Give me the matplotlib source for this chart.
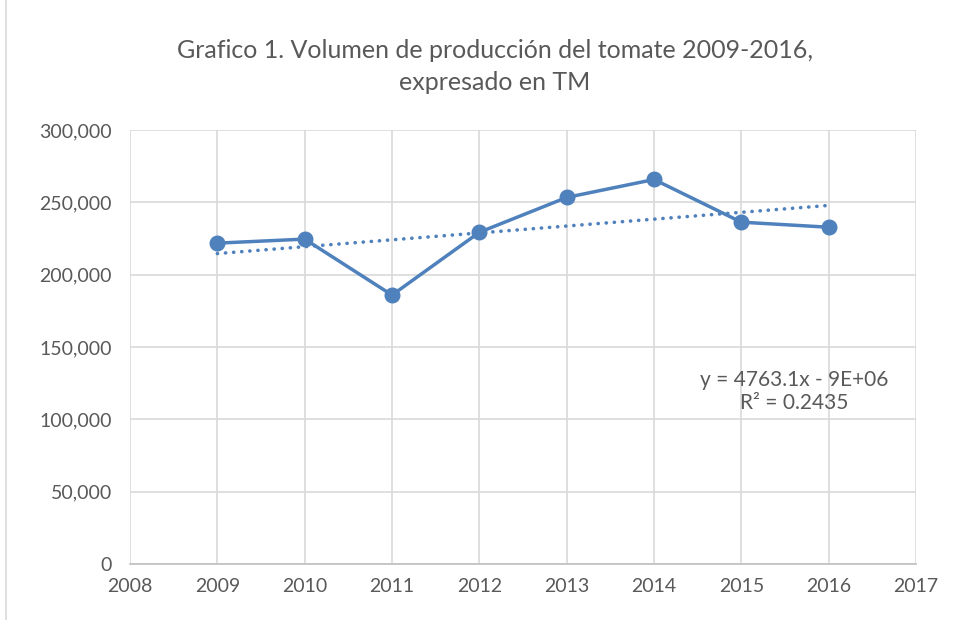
import matplotlib.pyplot as plt
import numpy as np
from matplotlib.patches import Rectangle
from matplotlib.ticker import FuncFormatter

years = [2009, 2010, 2011, 2012, 2013, 2014, 2015, 2016]
volumen = [221800, 224600, 185900, 229300, 253400, 265800, 236300, 232800]

titulo = "Grafico 1. Volumen de producción del tomate 2009-2016,\nexpresado en TM"
ecuacion = "y = 4763.1x - 9E+06\nR² = 0.2435"

COLOR = "#4F81BD"
GRIS = "#595959"

plt.rcParams['font.family'] = ['Lato', 'DejaVu Sans']

fig = plt.figure(figsize=(9.59, 6.2), dpi=100)
ax = fig.add_axes([0.1356, 0.0903, 0.8196, 0.700])

# Línea de tendencia (ajuste lineal)
coef = np.polyfit(years, volumen, 1)
xt = np.array([years[0], years[-1]])
ax.plot(xt, np.polyval(coef, xt), linestyle=(0, (0.05, 2.2)), color=COLOR, linewidth=2.6,
        dash_capstyle='round', zorder=3)

ax.plot(years, volumen, color=COLOR, linewidth=2.5, marker='o', markersize=10.5, zorder=4)

ax.set_xlim(2008, 2017)
ax.set_ylim(0, 300000)
ax.set_xticks(range(2008, 2018))
ax.set_yticks(range(0, 300001, 50000))
ax.yaxis.set_major_formatter(FuncFormatter(lambda v, p: "{:,.0f}".format(v)))
ax.grid(True, color="#d9d9d9", linewidth=1.2)
ax.set_axisbelow(True)
for s in ['top', 'right', 'left']:
    ax.spines[s].set_visible(False)
ax.spines['bottom'].set_color("#bfbfbf")
ax.spines['bottom'].set_linewidth(1.2)
ax.tick_params(length=0, labelsize=14, colors=GRIS, pad=10)
ax.tick_params(axis='y', pad=13)

ax.text(2015.6, 119500, ecuacion, ha='center', va='center', fontsize=15, color=GRIS,
        linespacing=1.2)

fig.text(0.516, 0.893, titulo, ha='center', va='center', fontsize=18, color=GRIS,
         linespacing=1.45)

# Borde del área del gráfico
fig.patches.append(Rectangle((0.006, -0.01), 1.2, 1.2, transform=fig.transFigure,
                             fill=False, edgecolor="#d9d9d9", linewidth=1.2))

fig.savefig("out.png", dpi=100)
